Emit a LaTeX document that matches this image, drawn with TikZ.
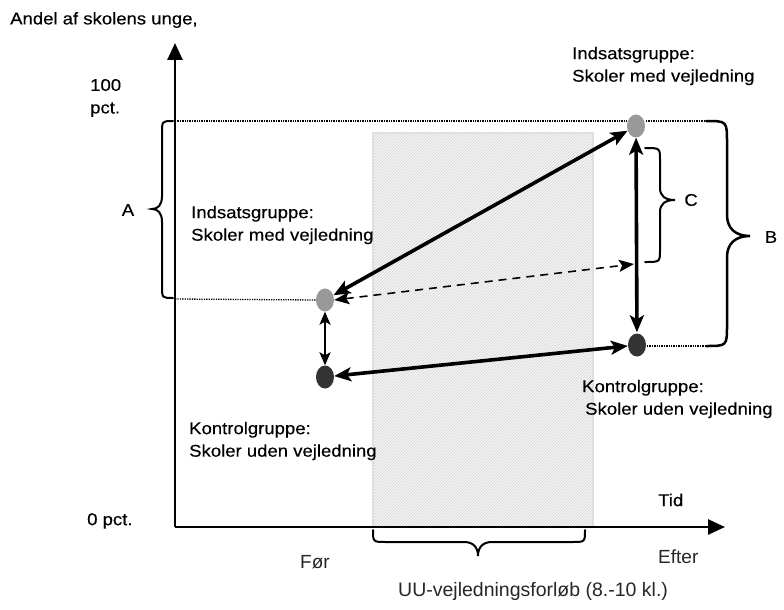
\documentclass[tikz,border=0pt]{standalone}
\usepackage{fontspec}
\setmainfont{Liberation Sans}[FakeStretch=1.09, FakeBold=0.35]
\newfontfamily\thinfont{Liberation Sans}
\usetikzlibrary{arrows.meta,shapes.geometric,patterns}
\definecolor{lgrey}{HTML}{999999}
\definecolor{dgrey}{HTML}{333333}
\definecolor{thintext}{HTML}{262626}
\tikzset{
  lbl/.style={inner sep=0pt, align=left, font=\fontsize{17}{22.5}\selectfont},
  thinlbl/.style={inner sep=0pt, text=thintext, font=\thinfont\fontsize{19}{23}\selectfont},
  dot/.style={ellipse, inner sep=0pt, minimum width=18pt, minimum height=23pt},
  axis/.style={line width=2.8pt, -{Triangle[length=17pt,width=15pt]}},
  bigarrow/.style={line width=3.6pt, {Stealth[length=17pt,width=14pt,inset=4pt]}-{Stealth[length=17pt,width=14pt,inset=4pt]}},
  smallarrow/.style={line width=2.2pt, {Stealth[length=13pt,width=11pt,inset=3pt]}-{Stealth[length=13pt,width=11pt,inset=3pt]}},
  dasharrow/.style={line width=1.6pt, dash pattern=on 8pt off 6pt, {Stealth[length=15pt,width=12pt,inset=3pt]}-{Stealth[length=15pt,width=12pt,inset=3pt]}},
  dotline/.style={line width=1.3pt, dash pattern=on 1.3pt off 1.1pt},
  bracestyle/.style={line width=2pt, line cap=round},
}
\begin{document}
\begin{tikzpicture}[x=1pt,y=-1pt]
\useasboundingbox (0,0) rectangle (784,610);
% shaded period
\fill[gray!7] (373,133) rectangle (593,527);
\fill[pattern=north east lines, pattern color=gray!35] (373,133) rectangle (593,527);
\draw[gray!25, line width=1.2pt] (373,527) -- (373,133) -- (593,133) -- (593,527);

% axes
\coordinate (origin) at (175,527);
\coordinate (ytop) at (175,43);
\coordinate (xend) at (725,527);
\draw[axis] (origin) -- (ytop);
\draw[axis] (origin) -- (xend);

% dots
\node[dot, fill=lgrey] (lg) at (325,300) {};
\node[dot, fill=dgrey] (ld) at (325,377) {};
\node[dot, fill=lgrey] (rg) at (636,126) {};
\node[dot, fill=dgrey] (rd) at (637,345) {};

% dotted guide lines
\coordinate (top100) at (175,121);
\coordinate (topmid) at (627,121);
\coordinate (low) at (175,299);
\coordinate (bt) at (646,121);
\coordinate (btr) at (706,121);
\coordinate (bb) at (647,346);
\coordinate (bbr) at (706,346);
\draw[dotline] (top100) -- (topmid);
\draw[dotline] (low) -- (lg.west);
\draw[dotline] (bt) -- (btr);
\draw[dotline] (bb) -- (bbr);

% arrows
\coordinate (dashend) at (634,264);
\draw[bigarrow] (lg) -- (rg);
\draw[dasharrow] (lg.east) -- (dashend);
\draw[bigarrow] (ld) -- (rd);
\draw[bigarrow, shorten <=1pt] (rd) -- (rg);
\draw[smallarrow] (lg) -- (ld);

% brace A
\draw[bracestyle] (173,121) .. controls (162,121) .. (162,133) -- (162,196)
  .. controls (162,205) and (158,209) .. (152,209)
  .. controls (158,209) and (162,213) .. (162,222) -- (162,286)
  .. controls (162,298) .. (173,298);
% brace B
\draw[bracestyle, line width=2.5pt] (btr) .. controls (727,121) .. (727,143) -- (727,215)
  .. controls (727,228) and (735,236) .. (750,236)
  .. controls (735,236) and (727,244) .. (727,257) -- (727,325)
  .. controls (727,346) .. (bbr);
% brace C
\draw[bracestyle] (645,148) .. controls (660,148) .. (660,160) -- (660,188)
  .. controls (660,196) and (665,200) .. (675,200)
  .. controls (665,200) and (660,204) .. (660,212) -- (660,250)
  .. controls (660,262) .. (645,262);
% brace under axis
\draw[bracestyle] (373,530) .. controls (373,542) .. (386,542) -- (464,542)
  .. controls (473,542) and (478,547) .. (478,556)
  .. controls (478,547) and (483,542) .. (492,542) -- (572,542)
  .. controls (585,542) .. (585,530);

% labels
\node[lbl, anchor=west] (title) at (10,20) {Andel af skolens unge,};
\node[lbl, anchor=west] (hundred) at (90,98) {100\\pct.};
\node[lbl, anchor=west] (zero) at (87,521) {0 pct.};
\node[lbl, anchor=center] (Alab) at (128,210) {A};
\node[lbl, anchor=center] (Blab) at (771,237) {B};
\node[lbl, anchor=center] (Clab) at (691,200) {C};
\node[lbl, anchor=west] (indL) at (191,225) {Indsatsgruppe:\\Skoler med vejledning};
\node[lbl, anchor=west] (konL) at (189,441) {Kontrolgruppe:\\Skoler uden vejledning};
\node[lbl, anchor=west] (indR) at (572,66) {Indsatsgruppe:\\Skoler med vejledning};
\node[lbl, anchor=west] (konR) at (582,399) {Kontrolgruppe:\\\hspace*{3pt}Skoler uden vejledning};
\node[lbl, anchor=west] (tid) at (658,500) {Tid};
\node[thinlbl, anchor=west] (efter) at (658,557) {Efter};
\node[thinlbl, anchor=west] (foer) at (300,562) {Før};
\node[thinlbl, anchor=west, font=\thinfont\fontsize{19.5}{23}\selectfont] (uu) at (398,591) {UU-vejledningsforløb (8.-10 kl.)};
\end{tikzpicture}
\end{document}
